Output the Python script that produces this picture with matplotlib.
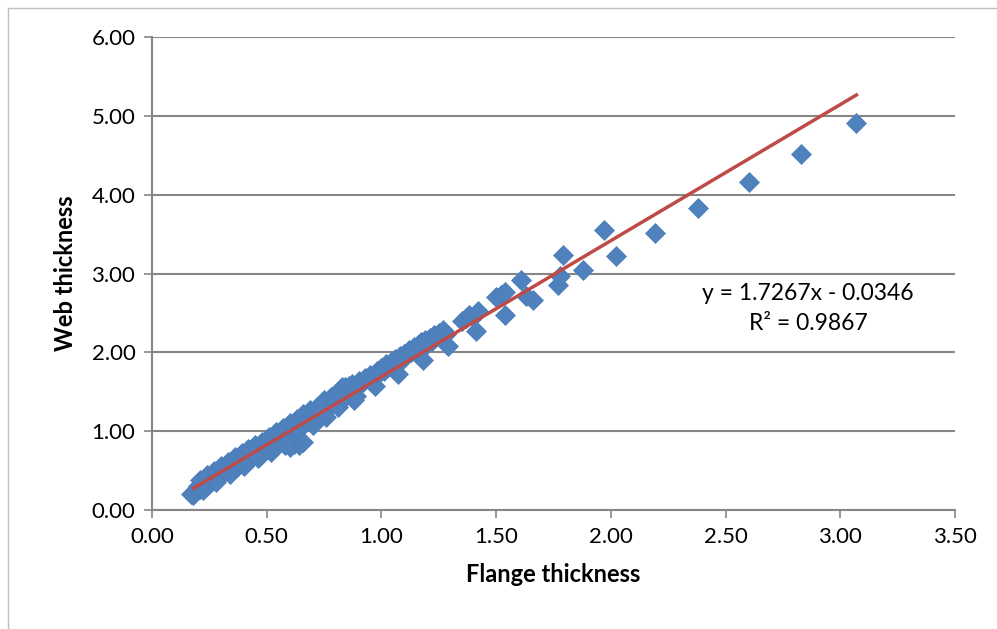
import numpy as np
import matplotlib.pyplot as plt
from matplotlib.lines import Line2D

plt.rcParams['font.family'] = ['Lato', 'DejaVu Sans']

# flange thickness (x) and web thickness (y)
flange = [0.17, 0.18, 0.19, 0.20, 0.21, 0.22, 0.23, 0.24, 0.25, 0.26,
          0.27, 0.28, 0.29, 0.30, 0.31, 0.32, 0.33, 0.34, 0.35, 0.36,
          0.37, 0.38, 0.39, 0.40, 0.41, 0.42, 0.43, 0.44, 0.45, 0.46,
          0.47, 0.48, 0.49, 0.50, 0.51, 0.52, 0.53, 0.54, 0.55, 0.56,
          0.57, 0.58, 0.59, 0.60, 0.61, 0.62, 0.63, 0.64, 0.65, 0.66,
          0.67, 0.68, 0.69, 0.70, 0.71, 0.72, 0.73, 0.74, 0.75, 0.76,
          0.77, 0.78, 0.79, 0.80, 0.81, 0.82, 0.83, 0.84, 0.85, 0.86,
          0.87, 0.88, 0.89, 0.90, 0.92, 0.94, 0.95, 0.96, 0.97, 0.98,
          1.00, 1.01, 1.02, 1.04, 1.05, 1.06, 1.07, 1.08, 1.10, 1.12,
          1.13, 1.14, 1.16, 1.17, 1.18, 1.19, 1.21, 1.22, 1.23, 1.25,
          1.27, 1.28, 1.29, 1.35, 1.37, 1.38, 1.40, 1.41, 1.42, 1.50,
          1.52, 1.54, 1.54, 1.61, 1.63, 1.66, 1.77, 1.78, 1.79, 1.88,
          1.97, 2.02, 2.19, 2.38, 2.60, 2.83, 3.07, 0.60, 0.64, 0.66,
          0.21, 0.24, 0.27, 0.30, 0.33, 0.36, 0.39, 0.42, 0.45, 0.48,
          0.51, 0.54, 0.57, 0.60, 0.63, 0.66, 0.69, 0.72, 0.75, 0.78,
          0.81, 0.84, 0.87, 0.90, 0.93, 0.99, 1.03, 1.09, 1.15, 1.20,
          0.22, 0.28, 0.34, 0.40, 0.46, 0.52, 0.58, 0.70, 0.76, 0.88]
web = [0.21, 0.19, 0.26, 0.30, 0.27, 0.33, 0.36, 0.31, 0.40, 0.37,
       0.44, 0.42, 0.47, 0.45, 0.52, 0.50, 0.53, 0.49, 0.58, 0.62,
       0.55, 0.64, 0.60, 0.68, 0.63, 0.70, 0.66, 0.75, 0.72, 0.78,
       0.69, 0.77, 0.82, 0.80, 0.84, 0.76, 0.90, 0.88, 0.97, 0.93,
       0.86, 0.95, 1.00, 0.92, 1.05, 0.84, 1.10, 1.03, 1.15, 1.08,
       1.20, 1.13, 1.17, 1.22, 1.14, 1.24, 1.20, 1.30, 1.40, 1.28,
       1.36, 1.33, 1.42, 1.38, 1.31, 1.47, 1.56, 1.44, 1.51, 1.58,
       1.48, 1.55, 1.45, 1.60, 1.63, 1.66, 1.72, 1.69, 1.57, 1.76,
       1.80, 1.77, 1.85, 1.88, 1.83, 1.92, 1.73, 1.95, 1.98, 2.03,
       2.00, 2.07, 2.10, 2.13, 1.90, 2.16, 2.18, 2.14, 2.22, 2.25,
       2.28, 2.23, 2.08, 2.40, 2.44, 2.47, 2.45, 2.27, 2.52, 2.70,
       2.73, 2.48, 2.77, 2.92, 2.72, 2.67, 2.86, 2.97, 3.24, 3.05,
       3.55, 3.22, 3.51, 3.83, 4.16, 4.52, 4.91, 0.80, 0.82, 0.86,
       0.38, 0.44, 0.50, 0.56, 0.61, 0.67, 0.72, 0.77, 0.82, 0.87,
       0.93, 0.99, 1.04, 1.10, 1.16, 1.22, 1.27, 1.31, 1.36, 1.44,
       1.50, 1.56, 1.60, 1.64, 1.68, 1.74, 1.82, 1.90, 2.03, 2.11,
       0.25, 0.36, 0.46, 0.56, 0.66, 0.74, 0.83, 1.08, 1.18, 1.40]

slope = 1.7267
intercept = -0.0346
r2 = 0.9867

xticks = [0.0, 0.5, 1.0, 1.5, 2.0, 2.5, 3.0, 3.5]
yticks = [0.0, 1.0, 2.0, 3.0, 4.0, 5.0, 6.0]

fig = plt.figure(figsize=(9.97, 6.29), dpi=100)
ax = fig.add_axes([0.1525, 0.189, 0.8055, 0.752])

ax.plot(flange, web, linestyle='none', marker='D', markersize=10.5,
        color='#4F81BD', markeredgecolor='#4A7EBB', markeredgewidth=0.5, zorder=3)

xs = np.array([0.18, max(flange)])
ax.plot(xs, slope * xs + intercept, color='#BE4B48', lw=2.5, zorder=4)

ax.set_xlim(0, 3.5)
ax.set_ylim(0, 6)
ax.set_xticks(xticks)
ax.set_yticks(yticks)
ax.set_xticklabels(['%.2f' % v for v in xticks])
ax.set_yticklabels(['%.2f' % v for v in yticks])
ax.tick_params(labelsize=16, length=6, width=1.2, color='#868686', pad=6)
ax.yaxis.grid(True, color='#868686', lw=1.5)
ax.set_axisbelow(True)
for s in ['top', 'right']:
    ax.spines[s].set_visible(False)
for s in ['left', 'bottom']:
    ax.spines[s].set_color('#868686')
    ax.spines[s].set_linewidth(1.5)

ax.set_xlabel('Flange thickness', fontsize=17, fontweight='bold', labelpad=12)
ax.set_ylabel('Web thickness', fontsize=17, fontweight='bold', labelpad=10)

ax.text(2.86, 2.75, 'y = 1.7267x - 0.0346', fontsize=16.5, ha='center', va='center')
ax.text(2.86, 2.37, 'R² = %.4f' % r2, fontsize=16.5, ha='center', va='center')

# outer chart border
fig.add_artist(Line2D([0.008, 0.008], [0.0, 0.987], color='#BFBFBF', lw=1))
fig.add_artist(Line2D([0.008, 1.0], [0.987, 0.987], color='#BFBFBF', lw=1))

fig.savefig('out.png', dpi=100)
